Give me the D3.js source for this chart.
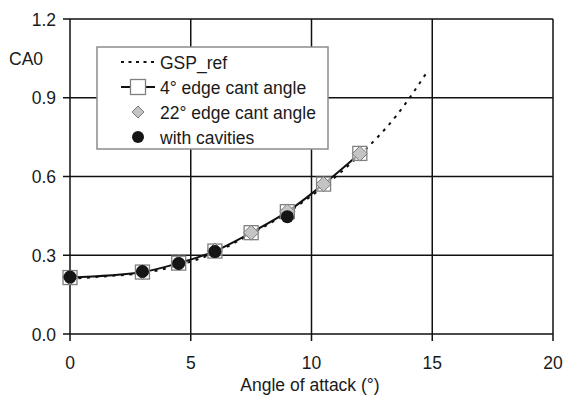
<!DOCTYPE html>
<html>
<head>
<meta charset="utf-8">
<script src="https://cdn.jsdelivr.net/npm/d3@7"></script>
<style>
  body { margin: 0; background: #fff; }
  svg text { font-family: "Liberation Sans", Arial, sans-serif; fill: #1a1a1a; }
</style>
</head>
<body>
<svg id="chart" width="564" height="401"></svg>
<script>
// data
const gspX = [0, 1.5, 3, 4.5, 6, 7.5, 9, 10.5, 12, 13.5, 14.8];
const gspY = [0.21, 0.22, 0.232, 0.262, 0.31, 0.382, 0.462, 0.562, 0.682, 0.83, 1.0];

const cantX = [0, 3, 4.5, 6, 7.5, 9, 10.5, 12];
const cant4Y = [0.215, 0.236, 0.27, 0.316, 0.386, 0.466, 0.571, 0.688];
const cant22Y = [0.215, 0.236, 0.27, 0.318, 0.386, 0.467, 0.571, 0.687];

const cavX = [0, 3, 4.5, 6, 9];
const cavY = [0.217, 0.238, 0.269, 0.314, 0.447];

const xTicks = [0, 5, 10, 15, 20];
const yTicks = [0, 0.3, 0.6, 0.9, 1.2];

const legendLabels = ["GSP_ref", "4\u00b0 edge cant angle", "22\u00b0 edge cant angle", "with cavities"];

const svg = d3.select("#chart");
const margin = { left: 70, right: 11, top: 19, bottom: 67 };
const W = 564, H = 401;
const fs = 17.5;

const x = d3.scaleLinear().domain([0, 20]).range([margin.left, W - margin.right]);
const y = d3.scaleLinear().domain([0, 1.2]).range([H - margin.bottom, margin.top]);

// grid
const grid = svg.append("g").attr("stroke", "#111").attr("stroke-width", 1.5);
grid.selectAll(".gx").data(xTicks).enter().append("line")
    .attr("x1", d => x(d)).attr("x2", d => x(d))
    .attr("y1", y(0) + 7).attr("y2", y(1.2));
grid.selectAll(".gy").data(yTicks).enter().append("line")
    .attr("x1", x(0) - 7).attr("x2", x(20))
    .attr("y1", d => y(d)).attr("y2", d => y(d));

// tick labels
svg.selectAll(".xl").data(xTicks).enter().append("text")
    .attr("x", d => x(d)).attr("y", y(0) + 35)
    .attr("text-anchor", "middle").attr("font-size", fs)
    .text(d => d);
svg.selectAll(".yl").data(yTicks).enter().append("text")
    .attr("x", x(0) - 14).attr("y", d => y(d) + 6.5)
    .attr("text-anchor", "end").attr("font-size", fs)
    .text(d => d.toFixed(1));

svg.append("text").attr("x", 310).attr("y", 391)
    .attr("text-anchor", "middle").attr("font-size", fs)
    .text("Angle of attack (\u00b0)");
svg.append("text").attr("x", 9).attr("y", 65)
    .attr("font-size", fs).text("CA0");

const line = d3.line().curve(d3.curveMonotoneX);

// GSP_ref dotted
svg.append("path")
    .attr("d", line(gspX.map((d, i) => [x(d), y(gspY[i])])))
    .attr("fill", "none").attr("stroke", "#111").attr("stroke-width", 2)
    .attr("stroke-dasharray", "3,5.5");

// 4 deg solid line + squares
svg.append("path")
    .attr("d", line(cantX.map((d, i) => [x(d), y(cant4Y[i])])))
    .attr("fill", "none").attr("stroke", "#111").attr("stroke-width", 2);

const sq = 14;
svg.selectAll(".sq").data(cantX).enter().append("rect")
    .attr("x", d => x(d) - sq / 2)
    .attr("y", (d, i) => y(cant4Y[i]) - sq / 2)
    .attr("width", sq).attr("height", sq)
    .attr("fill", "#fff").attr("fill-opacity", 0.6)
    .attr("stroke", "#808080").attr("stroke-width", 1.3);

// 22 deg diamonds
const dm = 7.5;
svg.selectAll(".dm").data(cantX).enter().append("path")
    .attr("d", (d, i) => {
        const cx = x(d), cy = y(cant22Y[i]);
        return `M${cx},${cy - dm}L${cx + dm},${cy}L${cx},${cy + dm}L${cx - dm},${cy}Z`;
    })
    .attr("fill", "#c4c4c4").attr("stroke", "#7a7a7a").attr("stroke-width", 1);

// cavities
svg.selectAll(".cv").data(cavX).enter().append("circle")
    .attr("cx", d => x(d)).attr("cy", (d, i) => y(cavY[i]))
    .attr("r", 6.5).attr("fill", "#151515");

// legend
const lg = svg.append("g");
lg.append("rect").attr("x", 97).attr("y", 47).attr("width", 231).attr("height", 102)
    .attr("fill", "#fff").attr("stroke", "#8c8c8c").attr("stroke-width", 1.5);

const rowY = d3.range(legendLabels.length).map(i => 62 + i * 25);
lg.selectAll(".lt").data(legendLabels).enter().append("text")
    .attr("x", 160).attr("y", (d, i) => rowY[i] + 6.5)
    .attr("font-size", fs).text(d => d);

lg.append("line").attr("x1", 121).attr("x2", 155).attr("y1", rowY[0]).attr("y2", rowY[0])
    .attr("stroke", "#111").attr("stroke-width", 2).attr("stroke-dasharray", "3,4.5");
lg.append("line").attr("x1", 121).attr("x2", 155).attr("y1", rowY[1]).attr("y2", rowY[1])
    .attr("stroke", "#111").attr("stroke-width", 2);
lg.append("rect").attr("x", 138 - 7.5).attr("y", rowY[1] - 7.5).attr("width", 15).attr("height", 15)
    .attr("fill", "#fff").attr("stroke", "#808080").attr("stroke-width", 1.3);
lg.append("path")
    .attr("d", `M138,${rowY[2] - 6}L144,${rowY[2]}L138,${rowY[2] + 6}L132,${rowY[2]}Z`)
    .attr("fill", "#c4c4c4").attr("stroke", "#7a7a7a");
lg.append("circle").attr("cx", 138).attr("cy", rowY[3]).attr("r", 6).attr("fill", "#151515");
</script>
</body>
</html>
